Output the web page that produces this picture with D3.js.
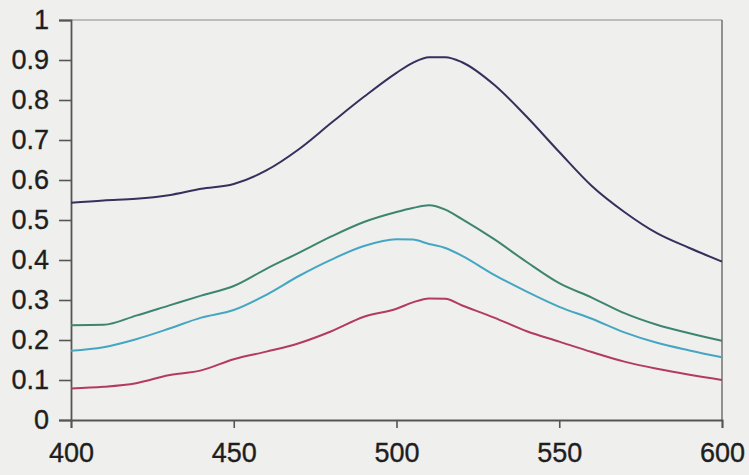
<!DOCTYPE html>
<html>
<head>
<meta charset="utf-8">
<script src="https://cdn.jsdelivr.net/npm/d3@7/dist/d3.min.js"></script>
<style>
  html, body { margin: 0; padding: 0; background: #efefed; }
  svg { display: block; }
  text { font-family: "Liberation Sans", Arial, sans-serif; fill: #1e1e1e; }
</style>
</head>
<body>
<svg id="chart" width="749" height="475"></svg>
<script>
const wavelengths = [400,410,420,430,440,450,460,470,480,490,500,505,510,515,520,530,540,550,560,570,580,590,600];
const navy  = [0.543,0.549,0.553,0.562,0.578,0.590,0.624,0.677,0.743,0.808,0.868,0.893,0.907,0.907,0.895,0.838,0.758,0.670,0.585,0.520,0.467,0.430,0.396];
const green = [0.237,0.238,0.261,0.286,0.311,0.335,0.378,0.418,0.459,0.495,0.520,0.530,0.537,0.526,0.503,0.452,0.395,0.342,0.306,0.267,0.238,0.217,0.198];
const cyan  = [0.173,0.182,0.202,0.228,0.256,0.275,0.313,0.360,0.401,0.435,0.452,0.451,0.440,0.430,0.411,0.363,0.321,0.283,0.253,0.219,0.193,0.174,0.157];
const red   = [0.079,0.083,0.092,0.112,0.124,0.152,0.171,0.192,0.222,0.258,0.278,0.294,0.304,0.303,0.287,0.256,0.222,0.196,0.170,0.146,0.128,0.113,0.100];
const xTicks = [400,450,500,550,600];
const yTicks = [0,0.1,0.2,0.3,0.4,0.5,0.6,0.7,0.8,0.9,1];

const series = [
  {name: "navy", values: navy, color: "#35305c"},
  {name: "green", values: green, color: "#3d8571"},
  {name: "cyan", values: cyan, color: "#44a6c2"},
  {name: "red", values: red, color: "#b23a63"}
];

const svg = d3.select("#chart");
const x = d3.scaleLinear().domain([400, 600]).range([71, 722]);
const y = d3.scaleLinear().domain([0, 1]).range([420, 20]);

// plot frame (top & right)
svg.append("line").attr("x1", x(400)).attr("x2", x(600)).attr("y1", y(1)).attr("y2", y(1))
  .attr("stroke", "#8a8a8a").attr("stroke-width", 1.2);
svg.append("line").attr("x1", x(600)).attr("x2", x(600)).attr("y1", y(1)).attr("y2", y(0))
  .attr("stroke", "#6a6a6a").attr("stroke-width", 1.4);

// Y axis
const yAxis = svg.append("g").attr("transform", `translate(${x(400)},0)`)
  .call(d3.axisLeft(y).tickValues(yTicks).tickSize(12).tickPadding(10)
    .tickFormat(d => d === 0 ? "0" : d === 1 ? "1" : d3.format(".1f")(d)));
yAxis.selectAll("text").style("font-size", "27px").attr("fill", "#222")
  .attr("stroke", "#222").attr("stroke-width", 0.35);

// X axis
const xAxis = svg.append("g").attr("transform", `translate(0,${y(0)})`)
  .call(d3.axisBottom(x).tickValues(xTicks).tickSize(8).tickPadding(15).tickFormat(d3.format("d")));
xAxis.selectAll("text").style("font-size", "27px").attr("fill", "#222")
  .attr("stroke", "#222").attr("stroke-width", 0.35);

[yAxis, xAxis].forEach(g => {
  g.select(".domain").attr("stroke", "#555").attr("stroke-width", 1.8);
  g.selectAll(".tick line").attr("stroke", "#555").attr("stroke-width", 1.6);
});

const line = d3.line()
  .x((d, i) => x(wavelengths[i]))
  .y(d => y(d))
  .curve(d3.curveMonotoneX);

svg.append("g").selectAll("path").data(series).join("path")
  .attr("d", s => line(s.values))
  .attr("fill", "none")
  .attr("stroke", s => s.color)
  .attr("stroke-width", 2);
</script>
</body>
</html>
